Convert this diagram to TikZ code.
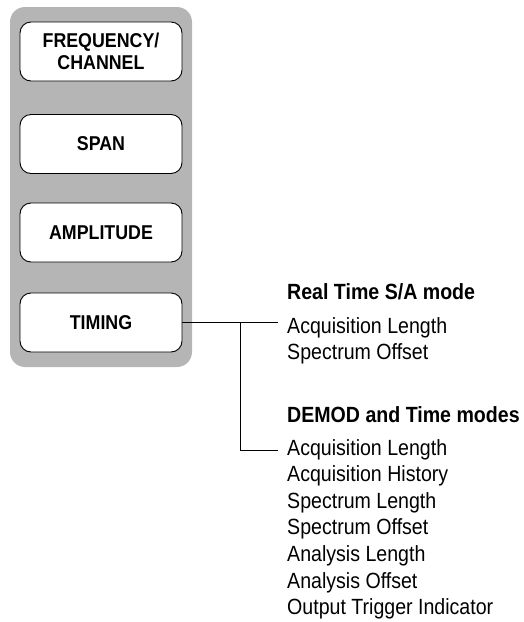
\documentclass[tikz,border=0pt]{standalone}
\usepackage{fontspec}
\setmainfont{Liberation Sans}[FakeStretch=0.89]
\definecolor{panelgray}{RGB}{181,181,181}
\begin{document}
\begin{tikzpicture}[x=1pt,y=-1pt,
  btn/.style={draw=black,line width=0.9pt,fill=white,rounded corners=11pt,
    minimum width=162pt,minimum height=59pt,align=center,
    font=\fontsize{20}{22}\selectfont\bfseries},
  hdr/.style={anchor=base west,inner sep=0pt,font=\fontsize{22}{24}\selectfont\bfseries},
  item/.style={anchor=base west,inner sep=0pt,font=\fontsize{22}{24}\selectfont},
  conn/.style={draw=black,line width=0.9pt}]
\useasboundingbox (0,0) rectangle (524,622);
\fill[panelgray,rounded corners=15pt] (10,7) rectangle (192,367);
\node[btn] (freq) at (101,51.5) {FREQUENCY/\\CHANNEL};
\node[btn] (span) at (101,144) {SPAN};
\node[btn] (ampl) at (101,232.5) {AMPLITUDE};
\node[btn] (timing) at (101,322.5) {TIMING};
\node[hdr] (h1) at (287,299) {Real Time S/A mode};
\node[item] (a1) at (287,333) {Acquisition Length};
\node[item] (a2) at (287,359) {Spectrum Offset};
\node[hdr] (h2) at (287,422) {DEMOD and Time modes};
\node[item] (b1) at (287,455) {Acquisition Length};
\node[item] (b2) at (287,481.6) {Acquisition History};
\node[item] (b3) at (287,508.2) {Spectrum Length};
\node[item] (b4) at (287,534.8) {Spectrum Offset};
\node[item] (b5) at (287,561.4) {Analysis Length};
\node[item] (b6) at (287,588) {Analysis Offset};
\node[item] (b7) at (287,614.6) {Output Trigger Indicator};
\coordinate (e1) at (278,322.5);
\coordinate (j) at (240,322.5);
\coordinate (e2) at (278,450);
\draw[conn] (timing.east) -- (e1);
\draw[conn] (j) |- (e2);
\end{tikzpicture}
\end{document}
